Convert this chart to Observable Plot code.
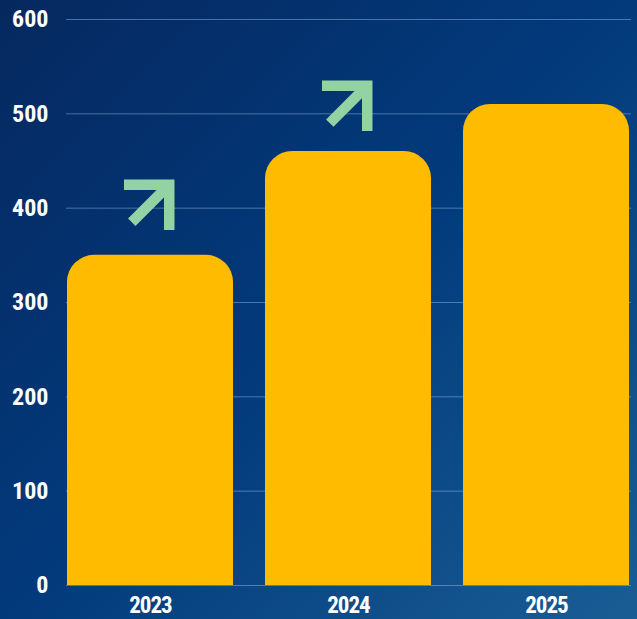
<!DOCTYPE html>
<html>
<head>
<meta charset="utf-8">
<script src="https://cdn.jsdelivr.net/npm/d3@7"></script>
<script src="https://cdn.jsdelivr.net/npm/@observablehq/plot@0.6"></script>
<style>
  html, body { margin: 0; padding: 0; }
  #chart {
    width: 637px; height: 619px; overflow: hidden;
    background: linear-gradient(135deg, #06285f 0%, #023a7c 50%, #1a5d95 100%);
  }
  #chart svg g[aria-label="x-axis tick label"] text { letter-spacing: -1px; }
</style>
</head>
<body>
<div id="chart"></div>
<script>
// ---- data ----
const years = ["2023", "2024", "2025"];
const values = [350, 460, 510];
const yTicks = [0, 100, 200, 300, 400, 500, 600];
// decorative growth arrows: placed above the bars of these years, at these values
const arrowYears = ["2023", "2024"];
const arrowValues = [405, 510];

const bars = years.map((year, i) => ({year, value: values[i]}));
const arrows = arrowYears.map((year, i) => ({year, value: arrowValues[i]}));

// open chevron arrow shape (points up before rotation)
const arrowShape = {
  draw(context, l) {
    const w = 32;
    context.moveTo(0, 0);
    context.lineTo(0, -l);
    context.moveTo(-w, w - l);
    context.lineTo(0, -l);
    context.lineTo(w, w - l);
  }
};

const chart = Plot.plot({
  width: 637,
  height: 619,
  marginTop: 19,
  marginBottom: 34,
  marginLeft: 66,
  marginRight: 6,
  style: {
    background: "transparent",
    color: "white",
    fontFamily: "'Liberation Sans Narrow', 'Roboto Condensed', sans-serif",
    fontSize: "24px",
    fontWeight: "bold"
  },
  x: {domain: years, paddingInner: 0.16, paddingOuter: 0},
  y: {domain: [0, 600]},
  marks: [
    Plot.gridY(yTicks, {stroke: "#9fc3ee", strokeOpacity: 0.45, strokeWidth: 1}),
    Plot.barY(bars, {x: "year", y: "value", fill: "#ffbb00", rx: 27}),
    Plot.barY(bars, {x: "year", y: d => d.value / 2, fill: "#ffbb00"}),
    Plot.vector(arrows, {
      x: "year", y: "value", length: 53, rotate: 45, anchor: "middle",
      shape: arrowShape, stroke: "#93d3a3", strokeWidth: 10.5,
      strokeLinejoin: "miter", strokeLinecap: "butt", fill: "none"
    }),
    Plot.axisY(yTicks, {tickSize: 0, tickPadding: 18, label: null}),
    Plot.axisX({tickSize: 0, tickPadding: 11, fontSize: 23, label: null})
  ]
});
document.getElementById("chart").appendChild(chart);
</script>
</body>
</html>
